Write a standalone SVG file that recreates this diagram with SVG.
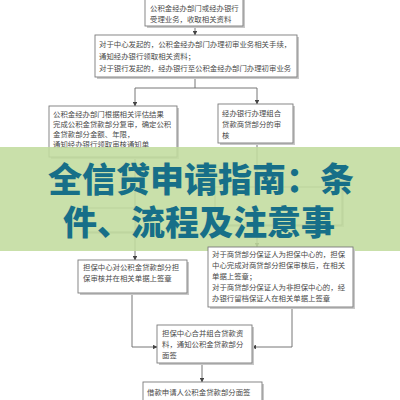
<svg xmlns="http://www.w3.org/2000/svg" width="400" height="400" viewBox="0 0 400 400">
<defs>
<style>
.box{fill:#fff;stroke:#7a7a7a;stroke-width:0.9}
.sh{fill:#c8c8c8}
.t{font-family:"Noto Sans CJK SC","Noto Sans",sans-serif;font-size:7.4px;fill:#4a4a4a}
.ln{fill:none;stroke:#666;stroke-width:0.9}
.ttl{font-family:"Noto Sans CJK SC","Noto Sans",sans-serif;font-size:34px;font-weight:900;fill:#176f88;text-anchor:middle}
</style>
<marker id="ar" viewBox="0 0 6 6" refX="5.5" refY="3" markerWidth="5" markerHeight="5" orient="auto">
<path d="M0,0 L6,3 L0,6 z" fill="#444"/>
</marker>
</defs>
<rect width="400" height="400" fill="#fff"/>
<g id="connectors">
<line class="ln" x1="195" y1="27" x2="195" y2="35" marker-end="url(#ar)"/>
<polyline class="ln" points="195,77 195,88"/>
<polyline class="ln" points="135,88 257,88"/>
<line class="ln" x1="135" y1="88" x2="135" y2="106" marker-end="url(#ar)"/>
<line class="ln" x1="257" y1="88" x2="257" y2="104" marker-end="url(#ar)"/>
<line class="ln" x1="257" y1="143" x2="257" y2="187"/>
<line class="ln" x1="135" y1="157" x2="135" y2="208"/>
<line class="ln" x1="135" y1="232" x2="135" y2="260" marker-end="url(#ar)"/>
<line class="ln" x1="257" y1="225" x2="257" y2="247" marker-end="url(#ar)"/>
<polyline class="ln" points="132,293 132,347 157,347" marker-end="url(#ar)"/>
<polyline class="ln" points="292,307 292,347 252,347" marker-end="url(#ar)"/>
<line class="ln" x1="202" y1="363" x2="202" y2="382" marker-end="url(#ar)"/>
</g>
<g id="n1">
<rect class="sh" x="147" y="-1" width="98" height="29"/>
<rect class="box" x="145" y="-3" width="98" height="29"/>
<text class="t" x="150" y="11">公积金经办部门或经办银行</text>
<text class="t" x="150" y="22">受理业务，收取相关资料</text>
</g>
<g id="n2">
<rect class="sh" x="97" y="37" width="202" height="42"/>
<rect class="box" x="95" y="35" width="202" height="42"/>
<text class="t" x="99" y="47">对于中心发起的，公积金经办部门办理初审业务相关手续，</text>
<text class="t" x="99" y="59">通知经办银行领取相关资料；</text>
<text class="t" x="99" y="71">对于银行发起的，经办银行至公积金经办部门办理初审业务</text>
</g>
<g id="n3">
<rect class="sh" x="51" y="108" width="128" height="51"/>
<rect class="box" x="49" y="106" width="128" height="51"/>
<text class="t" x="53" y="117">公积金经办部门根据相关评估结果</text>
<text class="t" x="53" y="127">完成公积金贷款部分复审，确定公积</text>
<text class="t" x="53" y="137">金贷款部分金额、年限，</text>
<text class="t" x="53" y="147">通知经办银行领取审核通知单</text>
</g>
<g id="n4">
<rect class="sh" x="220" y="106" width="75" height="39"/>
<rect class="box" x="218" y="104" width="75" height="39"/>
<text class="t" x="222" y="116" font-size="8">经办银行办理组合</text>
<text class="t" x="222" y="127" font-size="8">贷款商贷部分的审</text>
<text class="t" x="222" y="138" font-size="8">核</text>
</g>
<g id="n5">
<rect class="sh" x="85" y="210" width="52" height="24"/>
<rect class="box" x="83" y="208" width="52" height="24"/>
</g>
<g id="n6">
<rect class="sh" x="217" y="189" width="127" height="38"/>
<rect class="box" x="215" y="187" width="127" height="38"/>
</g>
<g id="banner">
<rect x="0" y="147" width="400" height="104" fill="#c2dc9e" opacity="0.88"/>
<text class="ttl" x="201" y="192">全信贷申请指南：条</text>
<text class="ttl" x="199" y="235">件、流程及注意事</text>
</g>
<g id="n7">
<rect class="sh" x="80" y="262" width="109" height="33"/>
<rect class="box" x="78" y="260" width="109" height="33"/>
<text class="t" x="83" y="270">担保中心对公积金贷款部分担</text>
<text class="t" x="83" y="281">保审核并在相关单据上签章</text>
</g>
<g id="n8">
<rect class="sh" x="210" y="249" width="145" height="60"/>
<rect class="box" x="208" y="247" width="145" height="60"/>
<text class="t" x="212" y="257">对于商贷部分保证人为担保中心的，担保</text>
<text class="t" x="212" y="268">中心完成对商贷部分担保审核后，在相关</text>
<text class="t" x="212" y="279">单据上签章；</text>
<text class="t" x="212" y="290">对于商贷部分保证人为非担保中心的，经</text>
<text class="t" x="212" y="301">办银行留档保证人在相关单据上签章</text>
</g>
<g id="n9">
<rect class="sh" x="159" y="327" width="95" height="38"/>
<rect class="box" x="157" y="325" width="95" height="38"/>
<text class="t" x="162" y="336">担保中心合并组合贷款资</text>
<text class="t" x="162" y="347">料，通知公积金贷款部分</text>
<text class="t" x="162" y="358">面签</text>
</g>
<g id="n10">
<rect class="sh" x="145" y="384" width="119" height="22"/>
<rect class="box" x="143" y="382" width="119" height="22"/>
<text class="t" x="147" y="395">借款申请人公积金贷款部分面签</text>
</g>
</svg>
